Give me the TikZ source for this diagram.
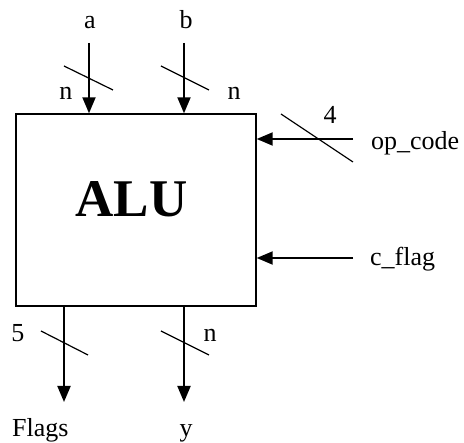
\documentclass[tikz,border=0pt]{standalone}
\usepackage{fontspec}
\setmainfont{Liberation Serif}
\usetikzlibrary{arrows.meta}
\begin{document}
\begin{tikzpicture}[x=1pt,y=-1pt,
  lbl/.style={inner sep=0pt,anchor=base,font=\fontsize{26}{30}\selectfont},
  lblw/.style={inner sep=0pt,anchor=base west,font=\fontsize{26}{30}\selectfont},
  sig/.style={line width=2pt,-{Triangle[length=16pt,width=13pt]}},
  busmark/.style={line width=1.2pt},
  blk/.style={draw,line width=1.4pt,minimum width=240pt,minimum height=192pt,inner sep=0pt}]
\useasboundingbox (0,0) rectangle (464,443);
\node[blk] (alu) at (136,210) {};
\node[inner sep=0pt,anchor=base,font=\fontsize{53}{60}\selectfont\bfseries] (alutxt) at (131.5,217) {ALU};
% inputs top
\coordinate (ain) at (89,43);
\coordinate (bin) at (184,43);
\draw[sig] (ain) -- (ain |- alu.north);
\draw[sig] (bin) -- (bin |- alu.north);
\node[lbl] (la) at (90,29) {a};
\node[lbl] (lb) at (186,29) {b};
\draw[busmark] (64,66) -- (113,90);
\draw[busmark] (161,66) -- (209,90);
\node[lbl] (na) at (66,100) {n};
\node[lbl] (nb) at (234,100) {n};
% right inputs
\coordinate (opin) at (353,139);
\coordinate (cin) at (353,258);
\draw[sig] (opin) -- (opin -| alu.east);
\draw[sig] (cin) -- (cin -| alu.east);
\draw[busmark] (281,114) -- (353,162);
\node[lbl] (n4) at (330,124) {4};
\node[lblw] (lop) at (371,150) {op\_code};
\node[lblw] (lc) at (370,266) {c\_flag};
% outputs
\coordinate (fout) at (64,402);
\coordinate (yout) at (184,402);
\draw[sig] (fout |- alu.south) -- (fout);
\draw[sig] (yout |- alu.south) -- (yout);
\draw[busmark] (41,331) -- (88,355);
\draw[busmark] (161,331) -- (209,355);
\node[lbl] (n5) at (18,342) {5};
\node[lbl] (ny) at (210,342) {n};
\node[lblw] (lf) at (12,437) {Flags};
\node[lbl] (ly) at (186,437) {y};
\end{tikzpicture}
\end{document}
